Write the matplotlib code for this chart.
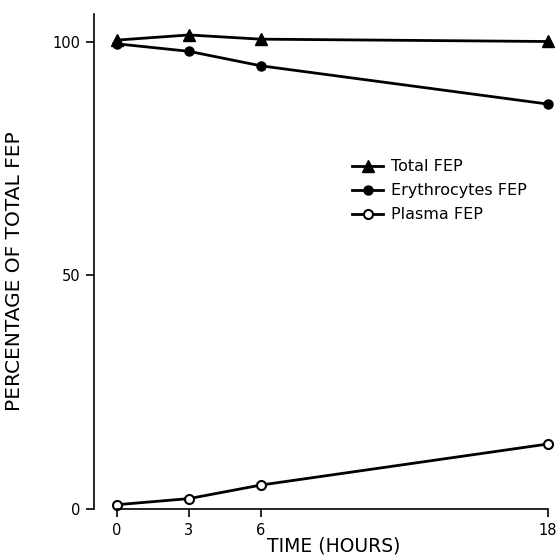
import matplotlib
matplotlib.use('Agg')
from matplotlib import pyplot as plt

# values
hours = [0, 3, 6, 18]
total_fep = [100.4, 101.5, 100.6, 100.1]
erythrocytes_fep = [99.6, 98.0, 94.9, 86.7]
plasma_fep = [0.9, 2.2, 5.1, 13.9]

x_ticks = [0, 3, 6, 18]
y_ticks = [0, 50, 100]

plt.rcParams['font.family'] = ['DejaVu Sans']

fig = plt.figure(figsize=(5.6, 5.58), dpi=100)
ax = fig.add_axes([0.168, 0.088, 0.819, 0.887])

lw = 2.0
ax.plot(hours, total_fep, color='black', lw=lw, marker='^', ms=8,
        clip_on=False, label='Total FEP')
ax.plot(hours, erythrocytes_fep, color='black', lw=lw, marker='o', ms=6.5,
        clip_on=False, label='Erythrocytes FEP')
ax.plot(hours, plasma_fep, color='black', lw=lw, marker='o', ms=6.5,
        markerfacecolor='white', markeredgewidth=1.5, clip_on=False,
        label='Plasma FEP')

ax.set_xlim(-0.96, 18.2)
ax.set_ylim(0, 106)

# detached spines like the original drawing
ax.spines['top'].set_visible(False)
ax.spines['right'].set_visible(False)
ax.spines['left'].set_bounds(0, 106)
ax.spines['bottom'].set_bounds(0, 18)
for s in ('left', 'bottom'):
    ax.spines[s].set_linewidth(1.2)

ax.set_xticks(x_ticks)
ax.set_yticks(y_ticks)
ax.tick_params(axis='both', direction='out', length=6, width=1.2,
               labelsize=10.5, pad=4)

ax.set_xlabel('TIME (HOURS)', fontsize=13.5, labelpad=1)
ax.xaxis.set_label_coords(0.523, -0.055)
ax.set_ylabel('PERCENTAGE OF TOTAL FEP', fontsize=14.5)
ax.yaxis.set_label_coords(-0.153, 0.48)

leg = ax.legend(loc='upper left', bbox_to_anchor=(0.53, 0.735), frameon=False,
                fontsize=11.5, handlelength=2.0, handletextpad=0.5,
                labelspacing=0.56)

plt.savefig('out.png', dpi=100)
